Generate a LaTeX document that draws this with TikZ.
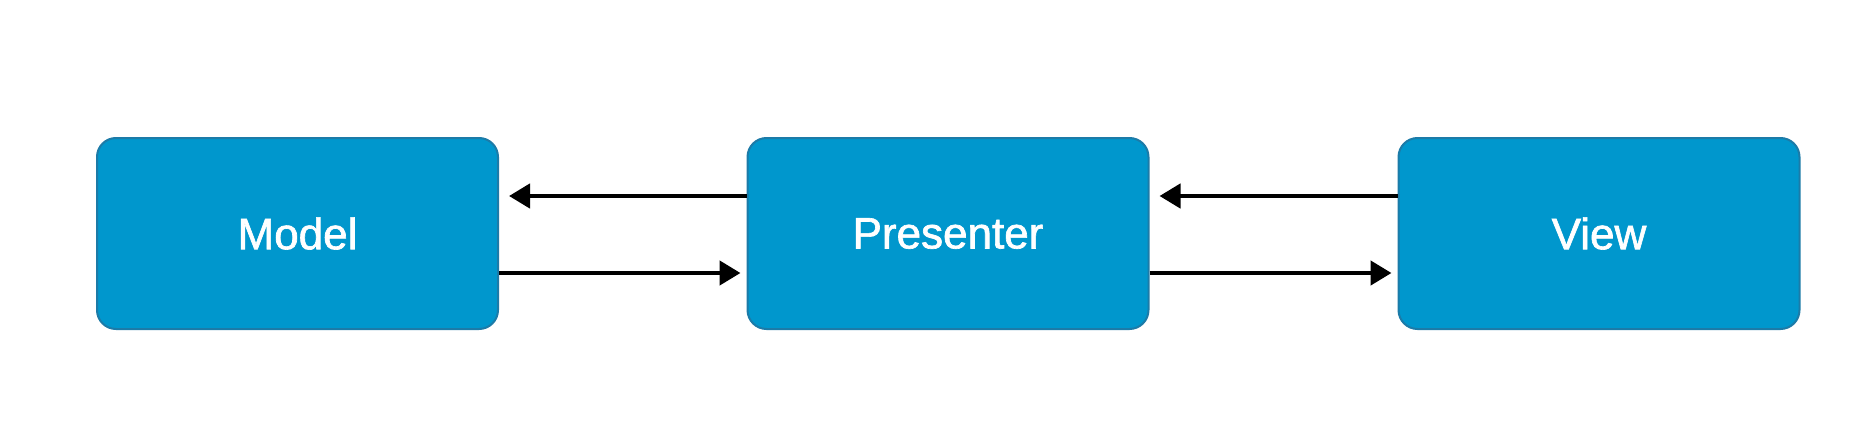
\documentclass[tikz,border=0pt]{standalone}
\usepackage{fontspec}
\setmainfont{Liberation Sans}
\newfontfamily\boxfont[FakeBold=1.5]{Liberation Sans}
\usetikzlibrary{arrows.meta}
\definecolor{boxfill}{HTML}{0097CD}
\definecolor{boxline}{HTML}{1C7BA8}
\begin{document}
\begin{tikzpicture}[x=1pt,y=1pt,
  mvpbox/.style={draw=boxline, line width=2pt, fill=boxfill, rounded corners=19pt,
    minimum width=401pt, minimum height=191pt, inner sep=0pt,
    text=white, font=\boxfont\fontsize{44}{50}\selectfont},
  link/.style={line width=4.5pt, -{Triangle[length=21pt,width=24pt]}}]
\useasboundingbox (0,0) rectangle (1870,424);
\node[mvpbox] (model) at (297.5,190.5) {Model};
\node[mvpbox] (presenter) at (948,190.5) {Presenter};
\node[mvpbox] (view) at (1599,190.5) {View};
\coordinate (up) at (0,228);
\coordinate (lo) at (0,151);
\draw[link] (presenter.west |- up) -- ([xshift=10pt]model.east |- up);
\draw[link] (model.east |- lo) -- ([xshift=-6pt]presenter.west |- lo);
\draw[link] (view.west |- up) -- ([xshift=10pt]presenter.east |- up);
\draw[link] (presenter.east |- lo) -- ([xshift=-6pt]view.west |- lo);
\end{tikzpicture}
\end{document}
